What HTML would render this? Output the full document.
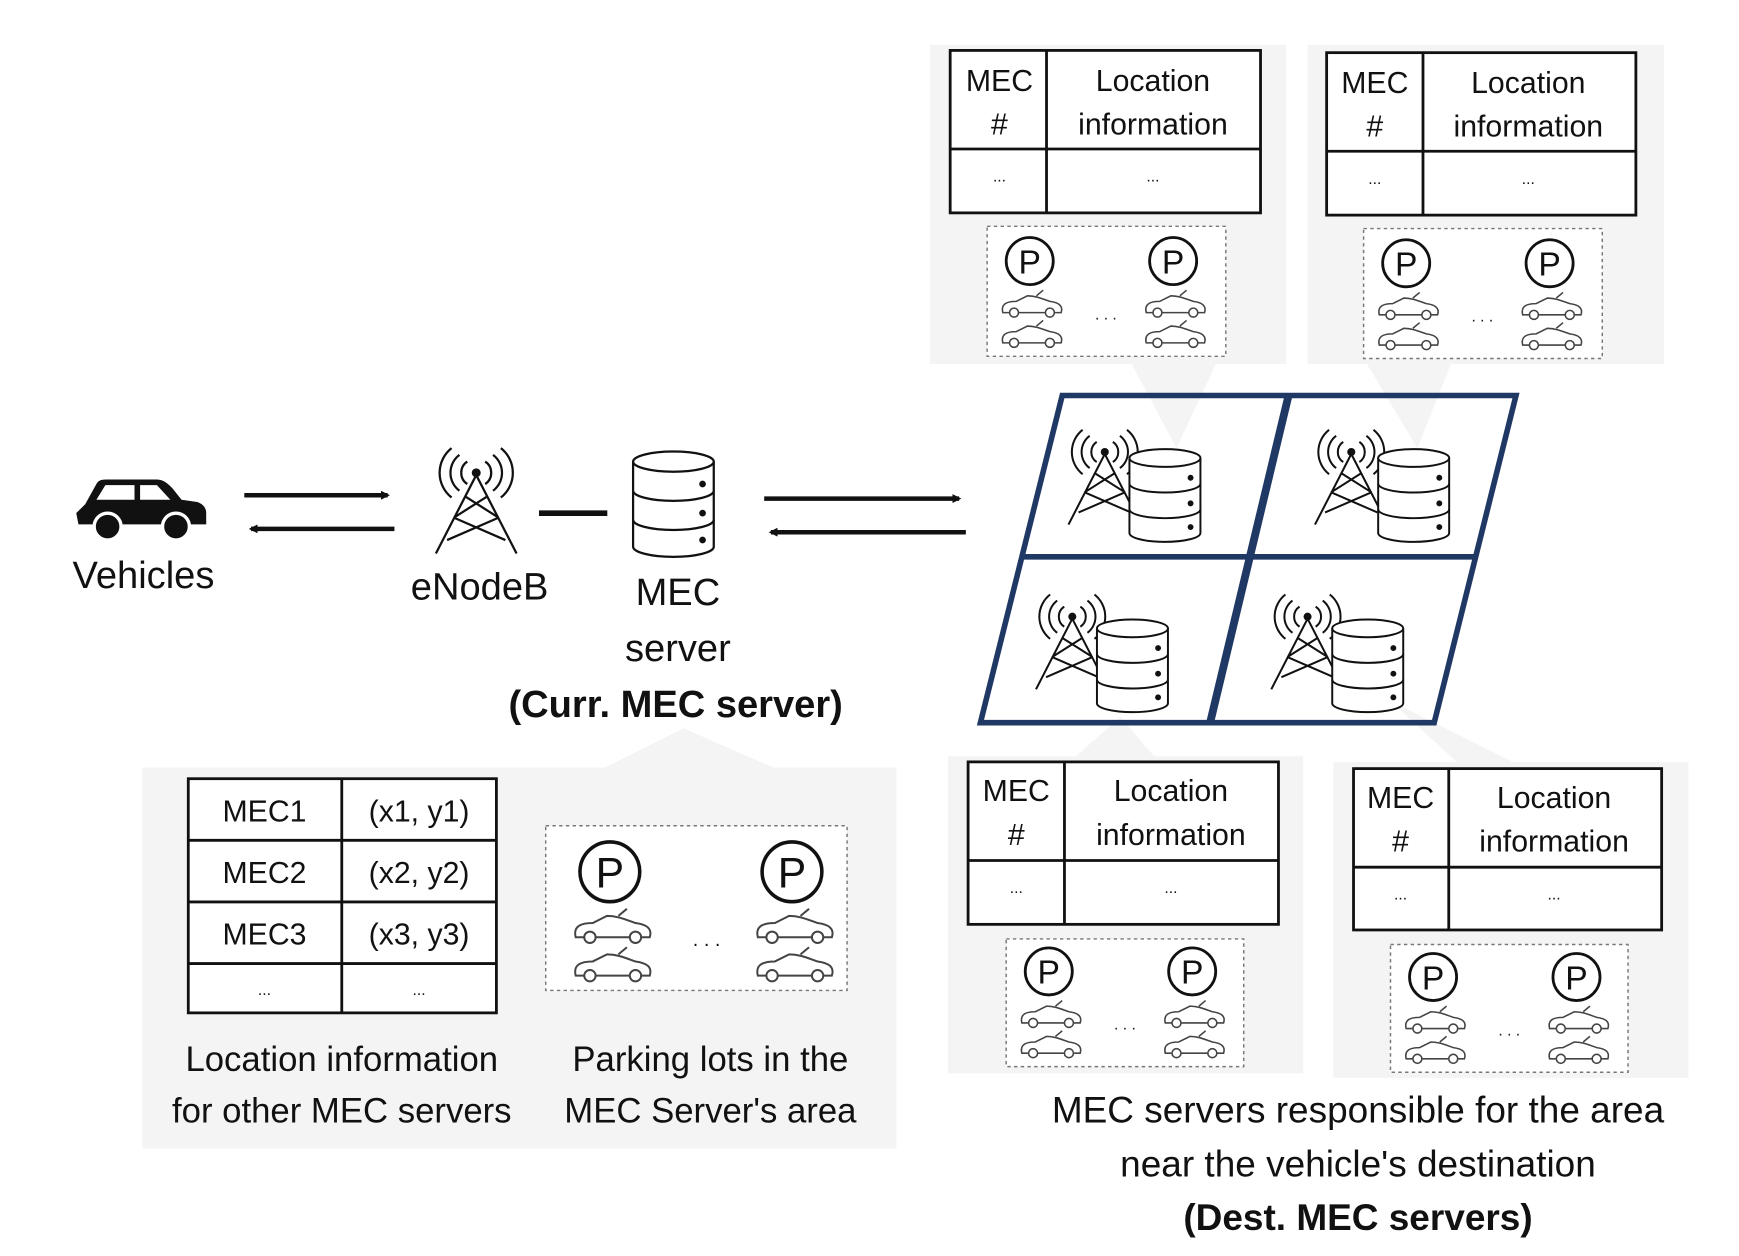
<!DOCTYPE html>
<html><head><meta charset="utf-8"><style>
html,body{margin:0;padding:0;background:#fff}
svg{display:block}
text{font-family:"Liberation Sans",sans-serif;fill:#111}
</style></head><body>
<svg width="1739" height="1256" viewBox="0 0 1552 1121" xmlns="http://www.w3.org/2000/svg">
<defs>
<marker id="ah" markerWidth="8" markerHeight="8" refX="6" refY="4" orient="auto" markerUnits="userSpaceOnUse"><path d="M0,0 L8,4 L0,8 z" fill="#111"/></marker>
<g id="tower" fill="none" stroke="#111" stroke-width="2">
 <path d="M0,-22 L-36,48 M0,-22 L36,48 M-20,16 L26,36 M20,16 L-26,36 M-10,-3 L20,16 M10,-3 L-20,16"/>
 <circle cx="0" cy="-24" r="3" fill="#111"/>
 <path d="M-8,-34 A12,12 0 0 0 -8,-14 M8,-34 A12,12 0 0 1 8,-14 M-15,-40 A20,20 0 0 0 -15,-8 M15,-40 A20,20 0 0 1 15,-8 M-22,-46 A28,28 0 0 0 -22,-2 M22,-46 A28,28 0 0 1 22,-2"/>
</g>
<g id="db" fill="#fff" stroke="#111" stroke-width="2">
 <path d="M0,10 L0,86 A36,9 0 0 0 72,86 L72,10"/>
 <ellipse cx="36" cy="10" rx="36" ry="9"/>
 <path d="M0,36 A36,9 0 0 0 72,36 M0,62 A36,9 0 0 0 72,62" fill="none"/>
 <circle cx="62" cy="30" r="2" fill="#111"/><circle cx="62" cy="56" r="2" fill="#111"/><circle cx="62" cy="80" r="2" fill="#111"/>
</g>
<g id="scar" fill="none" stroke="#444" stroke-width="1.4">
 <path d="M-26,6 C-28,-2 -22,-4 -14,-4 L-4,-9 C4,-9 10,-6 16,-4 C24,-3 28,0 26,6 Z M4,-9 L10,-14"/>
 <circle cx="-16" cy="6" r="4" fill="#fff"/><circle cx="16" cy="6" r="4" fill="#fff"/>
</g>
<g id="park">
 <circle cx="38" cy="30" r="21" fill="#fff" stroke="#111" stroke-width="2.5"/>
 <text x="38" y="41" font-size="30" text-anchor="middle">P</text>
 <circle cx="166" cy="30" r="21" fill="#fff" stroke="#111" stroke-width="2.5"/>
 <text x="166" y="41" font-size="30" text-anchor="middle">P</text>
 <use href="#scar" x="40" y="70"/><use href="#scar" x="40" y="97"/>
 <use href="#scar" x="168" y="70"/><use href="#scar" x="168" y="97"/>
 <text x="106" y="82" font-size="14" text-anchor="middle" fill="#666">. . .</text>
</g>
</defs>

<!-- gray panels and callout wedges -->
<g fill="#f4f4f4">
 <rect x="830" y="40" width="318" height="285"/>
 <rect x="1167" y="40" width="318" height="285"/>
 <rect x="846" y="675" width="317" height="283"/>
 <rect x="1190" y="680" width="317" height="282"/>
 <rect x="127" y="685" width="673" height="340"/>
 <polygon points="1010,325 1085,325 1050,400"/>
 <polygon points="1220,325 1295,325 1265,400"/>
 <polygon points="960,675 1030,675 1000,640"/>
 <polygon points="1300,680 1350,680 1240,625"/>
 <polygon points="540,685 690,685 610,650"/>
</g>

<!-- left chain -->
<g>
 <path d="M76,450 L86,432 C88,428 92,428 96,428 L140,428 C146,428 150,432 154,436 L162,446 L176,448 C182,450 184,454 184,458 L184,468 L70,468 L68,458 Z" fill="#111"/>
 <path d="M94,433 L120,433 L120,446 L86,446 Z M125,433 L140,433 L152,446 L125,446 Z" fill="#fff"/>
 <circle cx="96" cy="470" r="12" fill="#111" stroke="#fff" stroke-width="3"/>
 <circle cx="157" cy="470" r="12" fill="#111" stroke="#fff" stroke-width="3"/>
</g>
<text x="128" y="525" font-size="34" text-anchor="middle">Vehicles</text>
<line x1="218" y1="442" x2="346" y2="442" stroke="#111" stroke-width="4" marker-end="url(#ah)"/>
<line x1="352" y1="472" x2="224" y2="472" stroke="#111" stroke-width="4" marker-end="url(#ah)"/>
<use href="#tower" x="425" y="446"/>
<text x="428" y="535" font-size="34" text-anchor="middle">eNodeB</text>
<line x1="481" y1="458" x2="542" y2="458" stroke="#111" stroke-width="5"/>
<use href="#db" x="565" y="402"/>
<text x="605" y="540" font-size="34" text-anchor="middle">MEC</text>
<text x="605" y="590" font-size="34" text-anchor="middle">server</text>
<text x="603" y="640" font-size="34" font-weight="bold" text-anchor="middle">(Curr. MEC server)</text>
<line x1="682" y1="445" x2="856" y2="445" stroke="#111" stroke-width="4" marker-end="url(#ah)"/>
<line x1="862" y1="475" x2="688" y2="475" stroke="#111" stroke-width="4" marker-end="url(#ah)"/>

<!-- grid -->
<g fill="none" stroke="#1f3864" stroke-width="5">
 <polygon points="948,353 1353,353 1280,645 875,645"/>
 <line x1="912" y1="497" x2="1317" y2="497"/>
 <line x1="1150" y1="353" x2="1080" y2="645" stroke-width="7"/>
</g>
<use href="#tower" x="986" y="425" transform="translate(986,425) scale(0.9) translate(-986,-425)"/>
<use href="#db" x="0" y="0" transform="translate(1008,400) scale(0.88)"/>
<use href="#tower" x="0" y="0" transform="translate(1206,425) scale(0.9)"/>
<use href="#db" x="0" y="0" transform="translate(1230,400) scale(0.88)"/>
<use href="#tower" x="0" y="0" transform="translate(957,572) scale(0.9)"/>
<use href="#db" x="0" y="0" transform="translate(979,552) scale(0.88)"/>
<use href="#tower" x="0" y="0" transform="translate(1167,572) scale(0.9)"/>
<use href="#db" x="0" y="0" transform="translate(1189,552) scale(0.88)"/>

<!-- dest tables -->
<g fill="#fff" stroke="#111" stroke-width="2.5">
 <rect x="848" y="45" width="277" height="145"/><line x1="934" y1="45" x2="934" y2="190"/><line x1="848" y1="133" x2="1125" y2="133"/>
 <rect x="1184" y="47" width="276" height="145"/><line x1="1270" y1="47" x2="1270" y2="192"/><line x1="1184" y1="135" x2="1460" y2="135"/>
 <rect x="864" y="680" width="277" height="145"/><line x1="950" y1="680" x2="950" y2="825"/><line x1="864" y1="768" x2="1141" y2="768"/>
 <rect x="1208" y="686" width="275" height="144"/><line x1="1293" y1="686" x2="1293" y2="830"/><line x1="1208" y1="774" x2="1483" y2="774"/>
</g>
<g font-size="27" text-anchor="middle">
 <text x="892" y="81">MEC</text><text x="892" y="120">#</text><text x="1029" y="81">Location</text><text x="1029" y="120">information</text><text x="892" y="162" font-size="14">...</text><text x="1029" y="162" font-size="14">...</text>
 <text x="1227" y="83">MEC</text><text x="1227" y="122">#</text><text x="1364" y="83">Location</text><text x="1364" y="122">information</text><text x="1227" y="164" font-size="14">...</text><text x="1364" y="164" font-size="14">...</text>
 <text x="907" y="715">MEC</text><text x="907" y="754">#</text><text x="1045" y="715">Location</text><text x="1045" y="754">information</text><text x="907" y="797" font-size="14">...</text><text x="1045" y="797" font-size="14">...</text>
 <text x="1250" y="721">MEC</text><text x="1250" y="760">#</text><text x="1387" y="721">Location</text><text x="1387" y="760">information</text><text x="1250" y="803" font-size="14">...</text><text x="1387" y="803" font-size="14">...</text>
</g>
<!-- parking boxes -->
<g fill="#fff" stroke="#777" stroke-width="1.3" stroke-dasharray="3,3">
 <rect x="881" y="202" width="213" height="116"/>
 <rect x="1217" y="204" width="213" height="116"/>
 <rect x="898" y="838" width="212" height="114"/>
 <rect x="1241" y="843" width="212" height="114"/>
 <rect x="487" y="737" width="269" height="147"/>
</g>
<use href="#park" x="881" y="203"/>
<use href="#park" x="1217" y="205"/>
<use href="#park" x="898" y="837"/>
<use href="#park" x="1241" y="842"/>
<g transform="translate(496,740) scale(1.27)"><use href="#park"/></g>

<!-- current table -->
<g fill="#fff" stroke="#111" stroke-width="2.5">
 <rect x="168" y="695" width="275" height="209"/>
 <line x1="305" y1="695" x2="305" y2="904"/>
 <line x1="168" y1="750" x2="443" y2="750"/><line x1="168" y1="805" x2="443" y2="805"/><line x1="168" y1="860" x2="443" y2="860"/>
</g>
<g font-size="27" text-anchor="middle">
 <text x="236" y="733">MEC1</text><text x="374" y="733">(x1, y1)</text>
 <text x="236" y="788">MEC2</text><text x="374" y="788">(x2, y2)</text>
 <text x="236" y="843">MEC3</text><text x="374" y="843">(x3, y3)</text>
 <text x="236" y="888" font-size="14">...</text><text x="374" y="888" font-size="14">...</text>
</g>
<g font-size="31" text-anchor="middle">
 <text x="305" y="956">Location information</text>
 <text x="305" y="1002">for other MEC servers</text>
 <text x="634" y="956">Parking lots in the</text>
 <text x="634" y="1002">MEC Server's area</text>
</g>
<g font-size="33" text-anchor="middle">
 <text x="1212" y="1002">MEC servers responsible for the area</text>
 <text x="1212" y="1050">near the vehicle's destination</text>
 <text x="1212" y="1098" font-weight="bold">(Dest. MEC servers)</text>
</g>
</svg>
</body></html>
